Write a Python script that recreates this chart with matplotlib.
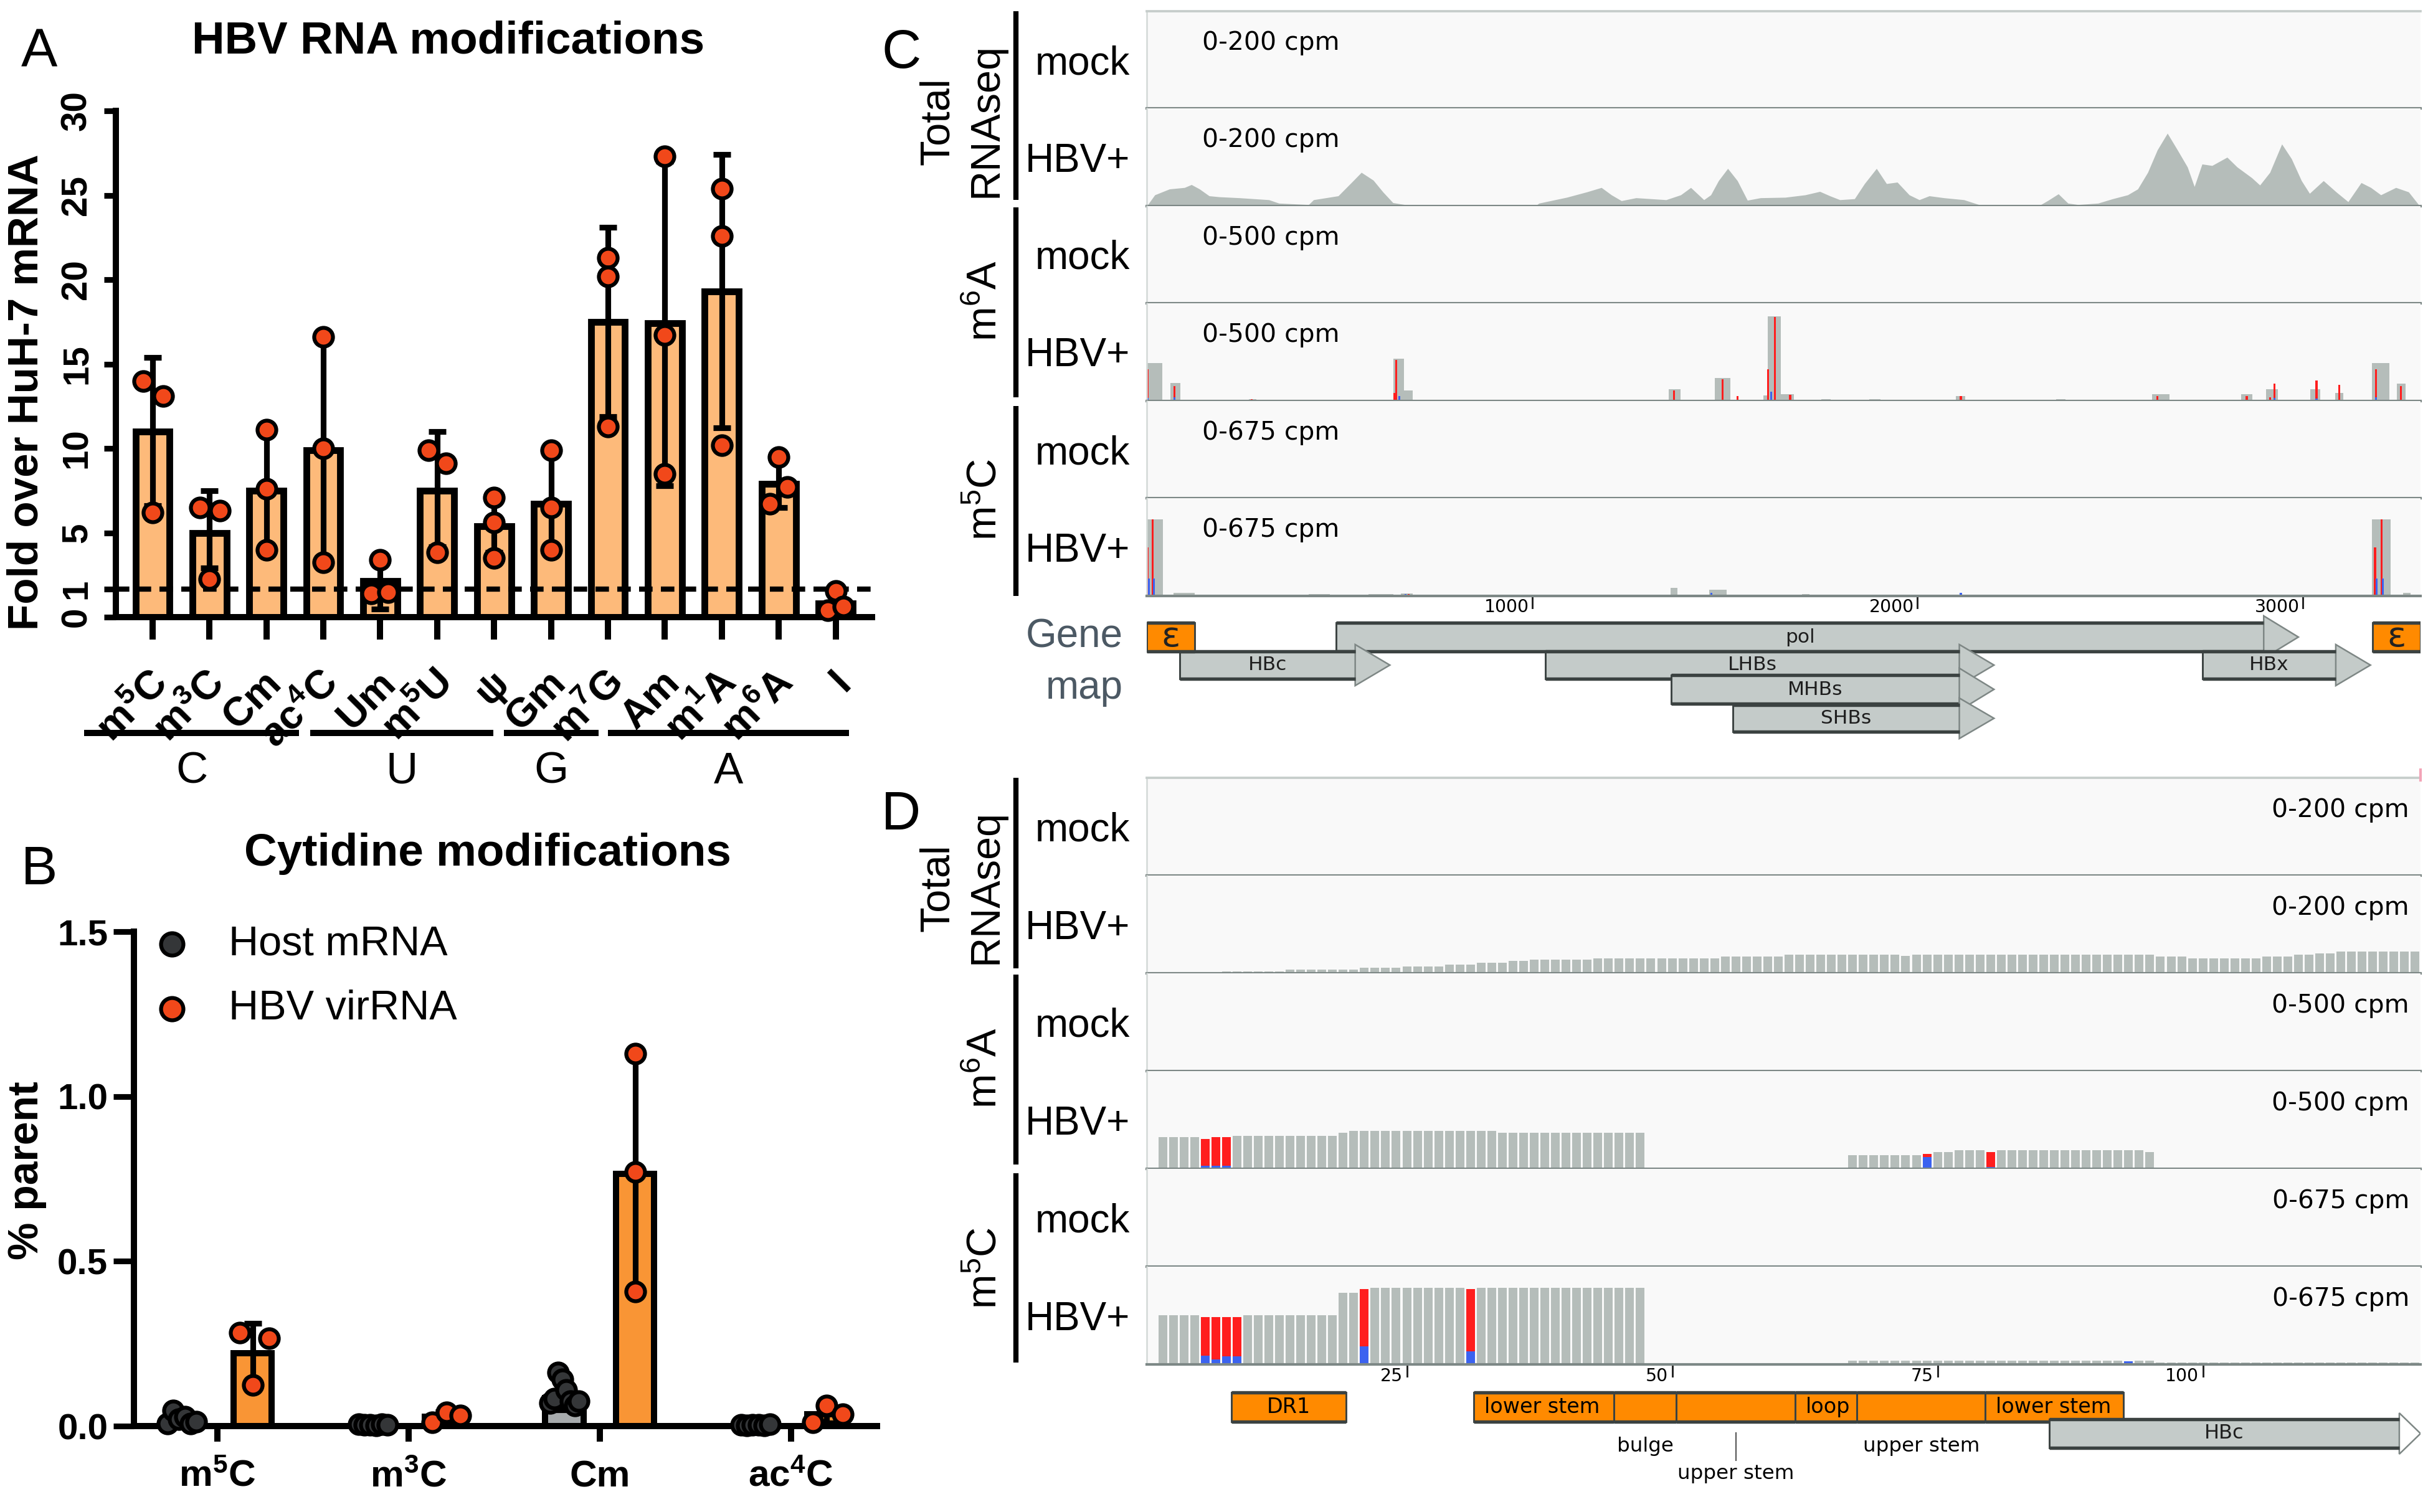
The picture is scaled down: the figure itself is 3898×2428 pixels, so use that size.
import numpy as np
import matplotlib
matplotlib.use('Agg')
import matplotlib.pyplot as plt
import matplotlib.transforms as mtransforms
from matplotlib.lines import Line2D
from matplotlib.patches import Rectangle, Polygon

plt.rcParams['font.family'] = ['Liberation Sans', 'DejaVu Sans']
plt.rcParams['mathtext.default'] = 'regular'
IGV_FONT = ['DejaVu Sans']

# ---------------- Panel A data ----------------
mods_A = ['m$^5$C', 'm$^3$C', 'Cm', 'ac$^4$C', 'Um', 'm$^5$U', 'ψ', 'Gm',
          'm$^7$G', 'Am', 'm$^1$A', 'm$^6$A', 'I']
fold_mean = [11.0, 5.0, 7.5, 9.9, 1.6, 7.5, 5.4, 6.7, 17.5, 17.4, 19.3, 7.9, 0.5]
fold_sd = [4.4, 2.5, 3.6, 6.7, 1.3, 3.5, 1.8, 3.0, 5.6, 9.6, 8.1, 1.4, 0.35]
fold_reps = [[14.0, 13.1, 6.2], [6.5, 6.3, 1.7], [11.1, 7.6, 3.8], [16.6, 10.0, 2.9],
             [3.1, 0.84, 0.89], [9.9, 9.1, 3.6], [7.1, 5.6, 3.2], [9.9, 6.5, 3.8],
             [21.3, 20.2, 11.3], [27.3, 16.7, 8.5], [25.4, 22.6, 10.2], [9.5, 7.7, 6.7],
             [0.93, 0.24, 0.37]]
groups_A = ['C', 'U', 'G', 'A']
yticks_A = [0, 1, 5, 10, 15, 20, 25, 30]

# ---------------- Panel B data ----------------
mods_B = ['m$^5$C', 'm$^3$C', 'Cm', 'ac$^4$C']
host_mean = [0.02, 0.004, 0.085, 0.003]
host_sd = [0.015, 0.002, 0.035, 0.001]
host_reps = [[0.007, 0.048, 0.02, 0.028, 0.007, 0.014],
             [0.005, 0.003, 0.004, 0.002, 0.006, 0.004],
             [0.069, 0.083, 0.163, 0.141, 0.11, 0.076, 0.062, 0.075],
             [0.003, 0.002, 0.004, 0.003, 0.002, 0.005]]
vir_mean = [0.221, 0.028, 0.766, 0.036]
vir_sd = [0.09, 0.016, 0.36, 0.026]
vir_reps = [[0.284, 0.266, 0.124], [0.011, 0.041, 0.032],
            [1.13, 0.77, 0.408], [0.011, 0.062, 0.035]]

# ---------------- Panel C data (HBV genome, bp) ----------------
genome_len = 3306
tot_c_bp = [0, 21, 59, 98, 116, 137, 162, 188, 240, 317, 343, 420, 433, 497, 536, 557, 588, 613, 639, 678,
            768, 807, 1008, 1018, 1090, 1142, 1180, 1206, 1232, 1270, 1348, 1386, 1412, 1446, 1464, 1484,
            1508, 1533, 1559, 1593, 1657, 1709, 1747, 1773, 1799, 1837, 1863, 1894, 1920, 1948, 1979,
            2005, 2031, 2069, 2121, 2160, 2172, 2250, 2263, 2288, 2314, 2340, 2366, 2391, 2417, 2469,
            2507, 2546, 2572, 2598, 2623, 2649, 2675, 2701, 2719, 2739, 2765, 2804, 2830, 2868, 2889,
            2915, 2946, 2971, 2997, 3018, 3054, 3087, 3118, 3152, 3177, 3203, 3242, 3275, 3301]
tot_c_cpm = [0, 23, 35, 38, 44, 35, 21, 19, 17, 13, 6, 3, 13, 21, 52, 69, 53, 29, 7, 2,
             2, 0, 0, 6, 18, 29, 38, 23, 11, 17, 13, 23, 38, 13, 23, 52, 77, 52, 12, 17,
             18, 23, 30, 21, 13, 15, 46, 77, 46, 49, 23, 13, 21, 17, 13, 3, 0, 0, 3, 3,
             0, 12, 25, 6, 3, 6, 15, 23, 35, 69, 115, 149, 115, 80, 40, 86, 83, 100, 80, 58,
             43, 69, 127, 97, 52, 26, 52, 29, 9, 48, 38, 23, 38, 29, 3]

m6a_c_grey_start = [0, 62, 265, 640, 668, 1355, 1475, 1600, 1612, 1645, 1750, 1875, 2100, 2360, 2610, 2840, 2905, 3020, 3085, 3180, 3245]
m6a_c_grey_end = [41, 88, 285, 668, 690, 1385, 1515, 1615, 1645, 1680, 1775, 1905, 2125, 2385, 2655, 2870, 2935, 3045, 3105, 3225, 3268]
m6a_c_grey_cpm = [195, 93, 11, 218, 54, 61, 118, 30, 432, 36, 8, 8, 26, 8, 36, 36, 60, 60, 40, 195, 90]
m6a_c_red_bp = [3, 72, 273, 647, 642, 1368, 1495, 1533, 1613, 1630, 1670, 2113, 2623, 2855, 2927, 2915, 3036, 3095, 3190, 3255]
m6a_c_red_cpm = [161, 75, 11, 211, 40, 55, 111, 25, 161, 431, 33, 26, 25, 25, 90, 20, 105, 83, 161, 75]
m6a_c_blue_bp = [3, 72, 655, 1620, 2927, 3036, 3190]
m6a_c_blue_cpm = [15, 20, 25, 47, 15, 12, 20]

m5c_c_grey_start = [0, 70, 420, 575, 660, 1360, 1460, 1700, 3180, 3260]
m5c_c_grey_end = [42, 125, 475, 640, 690, 1378, 1505, 1720, 3228, 3280]
m5c_c_grey_cpm = [530, 22, 13, 13, 18, 58, 41, 13, 530, 22]
m5c_c_red_bp = [2, 16, 680, 3188, 3205]
m5c_c_red_cpm = [336, 530, 15, 336, 530]
m5c_c_blue_bp = [5, 18, 672, 1465, 2113, 3192, 3208]
m5c_c_blue_cpm = [121, 121, 15, 20, 20, 121, 121]

genes_C = ['pol', 'HBc', 'LHBs', 'MHBs', 'SHBs', 'HBx']
gene_start = [492, 86, 1034, 1362, 1521, 2740]
gene_end = [2989, 631, 2199, 2199, 2199, 3176]
eps_start = [0, 3181]
eps_end = [125, 3306]
ticks_C = [1000, 2000, 3000]

# ---------------- Panel D data (nt 1-120) ----------------
tot_d_start = [8, 14, 21, 25, 29, 32, 35, 37, 43, 55, 61, 72, 73, 96, 99, 106, 109, 111, 113]
tot_d_end = [13, 20, 24, 28, 31, 34, 36, 42, 54, 60, 71, 72, 95, 98, 105, 108, 110, 112, 120]
tot_d_cpm = [4.4, 7.8, 11.2, 14.6, 18, 21.5, 25, 27.8, 31.2, 34.6, 37.6, 35.6, 37.6, 34.6, 31.2, 34.6, 37.6, 41, 44.9]

m6a_d_start = [2, 6, 9, 19, 20, 34, 67, 74, 77, 95]
m6a_d_end = [5, 8, 18, 19, 33, 47, 73, 76, 94, 95]
m6a_d_cpm = [161, 167, 170, 186, 195, 186, 71, 87, 97, 87]
m6a_d_mis_pos = [6, 7, 8, 74, 80]
m6a_d_mis_total = [154, 161, 161, 78, 87]
m6a_d_mis_blue = [17, 17, 17, 61, 11]

m5c_d_start = [2, 19, 21, 67, 96]
m5c_d_end = [18, 20, 47, 95, 120]
m5c_d_cpm = [341, 496, 530, 26, 14]
m5c_d_mis_pos = [6, 7, 8, 9, 21, 31, 93]
m5c_d_mis_total = [327, 327, 327, 327, 520, 520, 22]
m5c_d_mis_blue = [60, 34, 55, 55, 126, 91, 22]

stem_bounds = [31.3, 44.5, 50.4, 61.6, 67.4, 79.5, 92.5]
stem_in_labels = ['lower stem', '', '', 'loop', '', 'lower stem']
stem_below_labels = ['', 'bulge', 'upper stem', '', 'upper stem', '']
dr1_span = (8.5, 19.3)
hbc_d_span = (85.5, 120.5)
ticks_D = [25, 50, 75, 100]

# ---------------- styling ----------------
A_BAR = '#FDBA7A'
VIR_BAR = '#F99535'
HOST_BAR = '#A7ABAD'
PT = '#F1481A'
HOST_PT = '#343638'
TRACK_BG = '#F9F9F9'
COV = '#B5BDBA'
RED = '#FF1E1E'
BLUE = '#3B62F0'
SEP = '#7D8886'
GENE_FILL = '#C4CBC9'
GENE_EDGE = '#3B4241'
ORANGE = '#FF8A00'

W, H, DPI = 3898, 2428, 300
fig = plt.figure(figsize=(W / DPI, H / DPI), dpi=DPI)
fig.patch.set_facecolor('white')


def rect(x0, y0, x1, y1):
    return [x0 / W, 1 - y1 / H, (x1 - x0) / W, (y1 - y0) / H]


def ftext(x, y, s, **kw):
    return fig.text(x / W, 1 - y / H, s, **kw)


def fline(xs, ys, **kw):
    fig.add_artist(Line2D([x / W for x in xs], [1 - y / H for y in ys],
                          transform=fig.transFigure, **kw))


# ======================= Panel A =======================
def fwd(v):
    return np.interp(v, [0, 1, 5, 1000], [0, 1.65, 5, 1000])


def inv(v):
    return np.interp(v, [0, 1.65, 5, 1000], [0, 1, 5, 1000])


jit_A = [[-0.16, 0.19, 0], [-0.17, 0.18, 0], [0, 0, 0], [0, 0, 0], [0, -0.16, 0.14],
         [-0.15, 0.15, 0], [0, 0, 0], [0, 0, 0], [0, 0, 0], [0, 0, 0], [0, 0, 0],
         [0, 0.15, -0.15], [0, -0.14, 0.14]]
group_lines = [(-1.2, 2.57), (2.77, 5.99), (6.17, 7.84), (8.0, 12.23)]

axA = fig.add_axes(rect(186, 178, 1400, 991))
axA.set_yscale('function', functions=(fwd, inv))
xA = np.arange(len(mods_A))
axA.bar(xA, fold_mean, width=0.6, color=A_BAR, edgecolor='black', linewidth=2.6, zorder=2)
axA.errorbar(xA, fold_mean, yerr=fold_sd, fmt='none', ecolor='black', elinewidth=2.2,
             capsize=3.3, capthick=2.2, zorder=3)
axA.axhline(1, color='black', lw=2.0, ls=(0, (2.6, 1.6)), zorder=2.5)
for i, reps in enumerate(fold_reps):
    axA.scatter(i + np.array(jit_A[i]), reps, s=52, facecolor=PT, edgecolor='black',
                linewidth=1.5, zorder=4, clip_on=False)
axA.set_xlim(-0.645, 12.64)
axA.set_ylim(0, 30)
for s in ['top', 'right']:
    axA.spines[s].set_visible(False)
for s in ['left', 'bottom']:
    axA.spines[s].set_linewidth(2.4)
axA.set_yticks(yticks_A)
axA.set_yticklabels([str(t) for t in yticks_A], rotation=90, va='center',
                    fontweight='bold', fontsize=14)
axA.tick_params(axis='y', length=4.5, width=2.2, pad=4)
axA.set_xticks(xA)
axA.set_xticklabels(mods_A, rotation=45, ha='right', va='top', rotation_mode='anchor',
                    fontweight='bold', fontsize=15.5)
axA.tick_params(axis='x', length=8.6, width=2.4, pad=3)
offA = mtransforms.ScaledTranslation(-1.5 / 72, -6.5 / 72, fig.dpi_scale_trans)
for lab in axA.get_xticklabels():
    lab.set_transform(lab.get_transform() + offA)
bt = mtransforms.blended_transform_factory(axA.transData, axA.transAxes)
for (a, b), g in zip(group_lines, groups_A):
    axA.plot([a, b], [-0.229, -0.229], transform=bt, color='black', lw=2.4,
             clip_on=False, solid_capstyle='butt')
    axA.text((a + b) / 2, -0.306, g, transform=bt, ha='center', va='center', fontsize=17)

ftext(63, 85, 'A', ha='center', va='center', fontsize=21)
ftext(720, 66, 'HBV RNA modifications', ha='center', va='center', fontsize=17.5,
      fontweight='bold')
ftext(43, 630, 'Fold over HuH-7 mRNA', ha='center', va='center', rotation=90,
      fontsize=16.6, fontweight='bold')

# ======================= Panel B =======================
jit_B = [[-0.068, 0.085, 0.0], [-0.06, 0.015, 0.087], [0.0, 0.0, 0.0], [-0.07, 0.0, 0.085]]
axB = fig.add_axes(rect(215, 1496, 1408, 2290))
xB = np.arange(len(mods_B))
offB = 0.185
axB.bar(xB - offB, host_mean, width=0.2, color=HOST_BAR, edgecolor='black', linewidth=2.4, zorder=2)
axB.bar(xB + offB, vir_mean, width=0.2, color=VIR_BAR, edgecolor='black', linewidth=2.4, zorder=2)
axB.errorbar(xB - offB, host_mean, yerr=host_sd, fmt='none', ecolor='black', elinewidth=2.2,
             capsize=3.3, capthick=2.2, zorder=3)
axB.errorbar(xB + offB, vir_mean, yerr=vir_sd, fmt='none', ecolor='black', elinewidth=2.2,
             capsize=3.3, capthick=2.2, zorder=3)
for i in range(len(mods_B)):
    jx = np.linspace(-0.075, 0.075, len(host_reps[i]))
    axB.scatter(i - offB + jx, host_reps[i], s=52, facecolor=HOST_PT, edgecolor='black',
                linewidth=1.5, zorder=4, clip_on=False)
    axB.scatter(i + offB + np.array(jit_B[i]), vir_reps[i], s=52, facecolor=PT,
                edgecolor='black', linewidth=1.5, zorder=5, clip_on=False)
axB.set_xlim(-0.436, 3.45)
axB.set_ylim(0, 1.5)
for s in ['top', 'right']:
    axB.spines[s].set_visible(False)
for s in ['left', 'bottom']:
    axB.spines[s].set_linewidth(2.4)
axB.set_yticks([0, 0.5, 1.0, 1.5])
axB.set_yticklabels(['0.0', '0.5', '1.0', '1.5'], fontweight='bold', fontsize=14)
axB.tick_params(axis='y', length=8, width=2.2, pad=2)
axB.set_xticks(xB)
axB.set_xticklabels(mods_B, fontweight='bold', fontsize=14.5)
axB.tick_params(axis='x', length=6, width=2.4, pad=7)
legend_items = [('Host mRNA', HOST_PT, 1516), ('HBV virRNA', PT, 1620)]
for name, col, yy in legend_items:
    fig.add_artist(Line2D([276 / W], [1 - yy / H], marker='o', markersize=8.6,
                          markerfacecolor=col, markeredgecolor='black', markeredgewidth=1.5,
                          linestyle='none', transform=fig.transFigure))
    ftext(367, yy, name, ha='left', va='center', fontsize=16)

ftext(63, 1397, 'B', ha='center', va='center', fontsize=21)
ftext(783, 1371, 'Cytidine modifications', ha='center', va='center', fontsize=17.5,
      fontweight='bold')
ftext(43, 1880, '% parent', ha='center', va='center', rotation=90, fontsize=16.3,
      fontweight='bold')


# ======================= IGV helpers =======================
TX0, TX1 = 1841, 3886


def make_track(y0, y1, xlim, ymax, first=False):
    ax = fig.add_axes(rect(TX0, y0, TX1, y1))
    ax.set_xlim(*xlim)
    ax.set_ylim(0, ymax)
    ax.set_facecolor(TRACK_BG)
    ax.set_xticks([])
    ax.set_yticks([])
    ax.spines['right'].set_visible(False)
    ax.spines['top'].set_visible(first)
    ax.spines['top'].set_color('#C6CDCB')
    ax.spines['top'].set_linewidth(0.9)
    ax.spines['left'].set_color('#D3D9D7')
    ax.spines['left'].set_linewidth(0.6)
    ax.spines['bottom'].set_color(SEP)
    ax.spines['bottom'].set_linewidth(1.0)
    return ax


def expand(starts, ends, vals):
    pos, hts = [], []
    for s, e, v in zip(starts, ends, vals):
        for p in range(s, e + 1):
            pos.append(p)
            hts.append(v)
    return np.array(pos), np.array(hts, dtype=float)


def side_labels(tops, bottom, group_names, bracket_spans, scale_texts, right_scale):
    edges = list(tops) + [bottom]
    for k in range(6):
        c = (edges[k] + edges[k + 1]) / 2
        ftext(1814, c + 6, 'mock' if k % 2 == 0 else 'HBV+', ha='right', va='center',
              fontsize=15.3)
        if right_scale:
            ftext(3868, edges[k] + 52, scale_texts[k], ha='right', va='center',
                  fontsize=9.8, family=IGV_FONT)
        else:
            ftext(1930, edges[k] + 51, scale_texts[k], ha='left', va='center',
                  fontsize=9.8, family=IGV_FONT)
    for (a, b) in bracket_spans:
        fline([1631, 1631], [a, b], color='black', lw=2.0, solid_capstyle='butt')
    g_m6a, g_m5c = group_names
    ftext(1506, (edges[0] + edges[2]) / 2 + 20, 'Total', rotation=90, ha='center',
          va='center', fontsize=16)
    ftext(1583, (edges[0] + edges[2]) / 2 + 18, 'RNAseq', rotation=90, ha='center',
          va='center', fontsize=16)
    ftext(1583, (edges[2] + edges[4]) / 2 - 5, g_m6a, rotation=90, ha='center',
          va='center', fontsize=16)
    ftext(1583, (edges[4] + edges[6]) / 2 + 2, g_m5c, rotation=90, ha='center',
          va='center', fontsize=16)


scale_txt = ['0-200 cpm', '0-200 cpm', '0-500 cpm', '0-500 cpm', '0-675 cpm', '0-675 cpm']
ymaxes = [200, 200, 500, 500, 675, 675]


def gene_arrow(ax, start, tip, top, bot, label, z, head_len, head_ext, hollow_head=False,
               fs=7.5):
    base = tip - head_len
    mid = (top + bot) / 2
    ax.add_patch(Rectangle((start, top), base - start, bot - top, facecolor=GENE_FILL,
                           edgecolor='none', zorder=z))
    ax.add_patch(Polygon([(base, top - head_ext), (tip, mid), (base, bot + head_ext)],
                         closed=True, facecolor='white' if hollow_head else GENE_FILL,
                         edgecolor='#7E8785', lw=0.6, zorder=z))
    ax.plot([start, start], [top, bot], color=GENE_EDGE, lw=0.7, zorder=z + 0.1)
    ax.plot([start, base], [top, top], color=GENE_EDGE, lw=1.3, zorder=z + 0.1,
            solid_capstyle='butt')
    ax.plot([start, base], [bot, bot], color=GENE_EDGE, lw=1.3, zorder=z + 0.1,
            solid_capstyle='butt')
    ax.text((start + base) / 2, mid, label, ha='center', va='center', fontsize=fs,
            family=IGV_FONT, color='#1E1E1E', zorder=z + 0.2)


def orange_box(ax, a, b, t, bt_, z=3):
    ax.add_patch(Rectangle((a, t), b - a, bt_ - t, facecolor=ORANGE,
                           edgecolor='none', zorder=z))
    ax.plot([a, b], [t, t], color=GENE_EDGE, lw=1.3, zorder=z + 1, solid_capstyle='butt')
    ax.plot([a, b], [bt_, bt_], color=GENE_EDGE, lw=1.3, zorder=z + 1, solid_capstyle='butt')
    for xx in (a, b):
        ax.plot([xx, xx], [t, bt_], color=GENE_EDGE, lw=0.7, zorder=z + 1)


# ======================= Panel C =======================
tops_C = [18, 174, 331, 487, 644, 800]
bottom_C = 957
edgesC = tops_C + [bottom_C]
axesC = [make_track(edgesC[k], edgesC[k + 1], (0, genome_len), ymaxes[k], first=(k == 0))
         for k in range(6)]
axesC[1].fill_between(tot_c_bp, tot_c_cpm, 0, color=COV, lw=0)
ax = axesC[3]
ax.bar(m6a_c_grey_start, m6a_c_grey_cpm, width=np.array(m6a_c_grey_end) - np.array(m6a_c_grey_start),
       align='edge', color=COV, lw=0)
ax.bar(m6a_c_red_bp, m6a_c_red_cpm, width=5, color=RED, lw=0)
ax.bar(m6a_c_blue_bp, m6a_c_blue_cpm, width=5, color=BLUE, lw=0)
ax = axesC[5]
ax.bar(m5c_c_grey_start, m5c_c_grey_cpm, width=np.array(m5c_c_grey_end) - np.array(m5c_c_grey_start),
       align='edge', color=COV, lw=0)
ax.bar(m5c_c_red_bp, m5c_c_red_cpm, width=5, color=RED, lw=0)
ax.bar(m5c_c_blue_bp, m5c_c_blue_cpm, width=5, color=BLUE, lw=0)

side_labels(tops_C, bottom_C, ('m$^6$A', 'm$^5$C'),
            [(18, 321), (333, 638), (652, 957)], scale_txt, right_scale=False)
ftext(1447, 87, 'C', ha='center', va='center', fontsize=21)
ftext(1803, 1023, 'Gene', ha='right', va='center', fontsize=15.3, color='#4C5964')
ftext(1803, 1105, 'map', ha='right', va='center', fontsize=15.3, color='#4C5964')

gmC = fig.add_axes(rect(TX0, 957, TX1, 1205))
gmC.set_xlim(0, genome_len)
gmC.set_ylim(1205, 957)
gmC.axis('off')
for t in ticks_C:
    gmC.plot([t, t], [960, 976], color='#222222', lw=0.7)
    gmC.text(t - 8, 975, str(t), ha='right', va='center', fontsize=6.8, family=IGV_FONT)

gene_rows = {'pol': (1000, 1046), 'HBc': (1046, 1090), 'LHBs': (1046, 1090),
             'HBx': (1046, 1090), 'MHBs': (1084, 1130), 'SHBs': (1132, 1175)}
for z, g in enumerate(['pol', 'HBc', 'LHBs', 'HBx', 'MHBs', 'SHBs']):
    i = genes_C.index(g)
    top, bot = gene_rows[g]
    gene_arrow(gmC, gene_start[i], gene_end[i], top, bot, g, 2 + z, 90, 11)
for s, e in zip(eps_start, eps_end):
    orange_box(gmC, s, e, 1000, 1046, z=10)
    gmC.text((s + e) / 2, 1023, 'ε', ha='center', va='center', fontsize=13.5,
             family=IGV_FONT, color='#222222', zorder=12)

# ======================= Panel D =======================
tops_D = [1249, 1406, 1563, 1720, 1877, 2034]
bottom_D = 2191
edgesD = tops_D + [bottom_D]
xlimD = (0.5, 120.5)
axesD = [make_track(edgesD[k], edgesD[k + 1], xlimD, ymaxes[k], first=(k == 0))
         for k in range(6)]
BW = 0.82
p, h = expand(tot_d_start, tot_d_end, tot_d_cpm)
axesD[1].bar(p, h, width=BW, color=COV, lw=0)

for ax, (st, en, cp, mp, mt, mb) in [
        (axesD[3], (m6a_d_start, m6a_d_end, m6a_d_cpm, m6a_d_mis_pos, m6a_d_mis_total, m6a_d_mis_blue)),
        (axesD[5], (m5c_d_start, m5c_d_end, m5c_d_cpm, m5c_d_mis_pos, m5c_d_mis_total, m5c_d_mis_blue))]:
    p, h = expand(st, en, cp)
    keep = ~np.isin(p, mp)
    ax.bar(p[keep], h[keep], width=BW, color=COV, lw=0)
    ax.bar(mp, mt, width=BW, color=RED, lw=0)
    ax.bar(mp, mb, width=BW, color=BLUE, lw=0)

side_labels(tops_D, bottom_D, ('m$^6$A', 'm$^5$C'),
            [(1249, 1555), (1565, 1870), (1884, 2188)], scale_txt, right_scale=True)
ftext(1447, 1310, 'D', ha='center', va='center', fontsize=21)
fline([3886, 3886], [1236, 1253], color='#F3A5B8', lw=1.0)

gmD = fig.add_axes(rect(TX0, 2191, TX1, 2420))
gmD.set_xlim(*xlimD)
gmD.set_ylim(2420, 2191)
gmD.axis('off')
for t in ticks_D:
    gmD.plot([t, t], [2194, 2210], color='#222222', lw=0.7)
    gmD.text(t - 0.4, 2210, str(t), ha='right', va='center', fontsize=6.8, family=IGV_FONT)

BOX_T, BOX_B = 2236, 2283
orange_box(gmD, *dr1_span, BOX_T, BOX_B)
gmD.text(sum(dr1_span) / 2, (BOX_T + BOX_B) / 2, 'DR1', ha='center', va='center',
         fontsize=8, family=IGV_FONT, zorder=5)
for k in range(len(stem_bounds) - 1):
    a, b = stem_bounds[k], stem_bounds[k + 1]
    orange_box(gmD, a, b, BOX_T, BOX_B)
    if stem_in_labels[k]:
        gmD.text(a + 1.0, (BOX_T + BOX_B) / 2, stem_in_labels[k], ha='left', va='center',
                 fontsize=8, family=IGV_FONT, zorder=5)
    if stem_below_labels[k]:
        cx = (a + b) / 2
        if k == 2:
            gmD.plot([cx, cx], [2301, 2345], color='#555555', lw=0.5)
            gmD.text(cx, 2367, stem_below_labels[k], ha='center', va='center',
                     fontsize=7.8, family=IGV_FONT)
        else:
            gmD.text(cx, 2322, stem_below_labels[k], ha='center', va='center',
                     fontsize=7.8, family=IGV_FONT)
gene_arrow(gmD, hbc_d_span[0], hbc_d_span[1], 2279, 2325, 'HBc', 6, 2.0, 10,
           hollow_head=True, fs=7.7)

fig.savefig('out.png', dpi=DPI, facecolor='white')
